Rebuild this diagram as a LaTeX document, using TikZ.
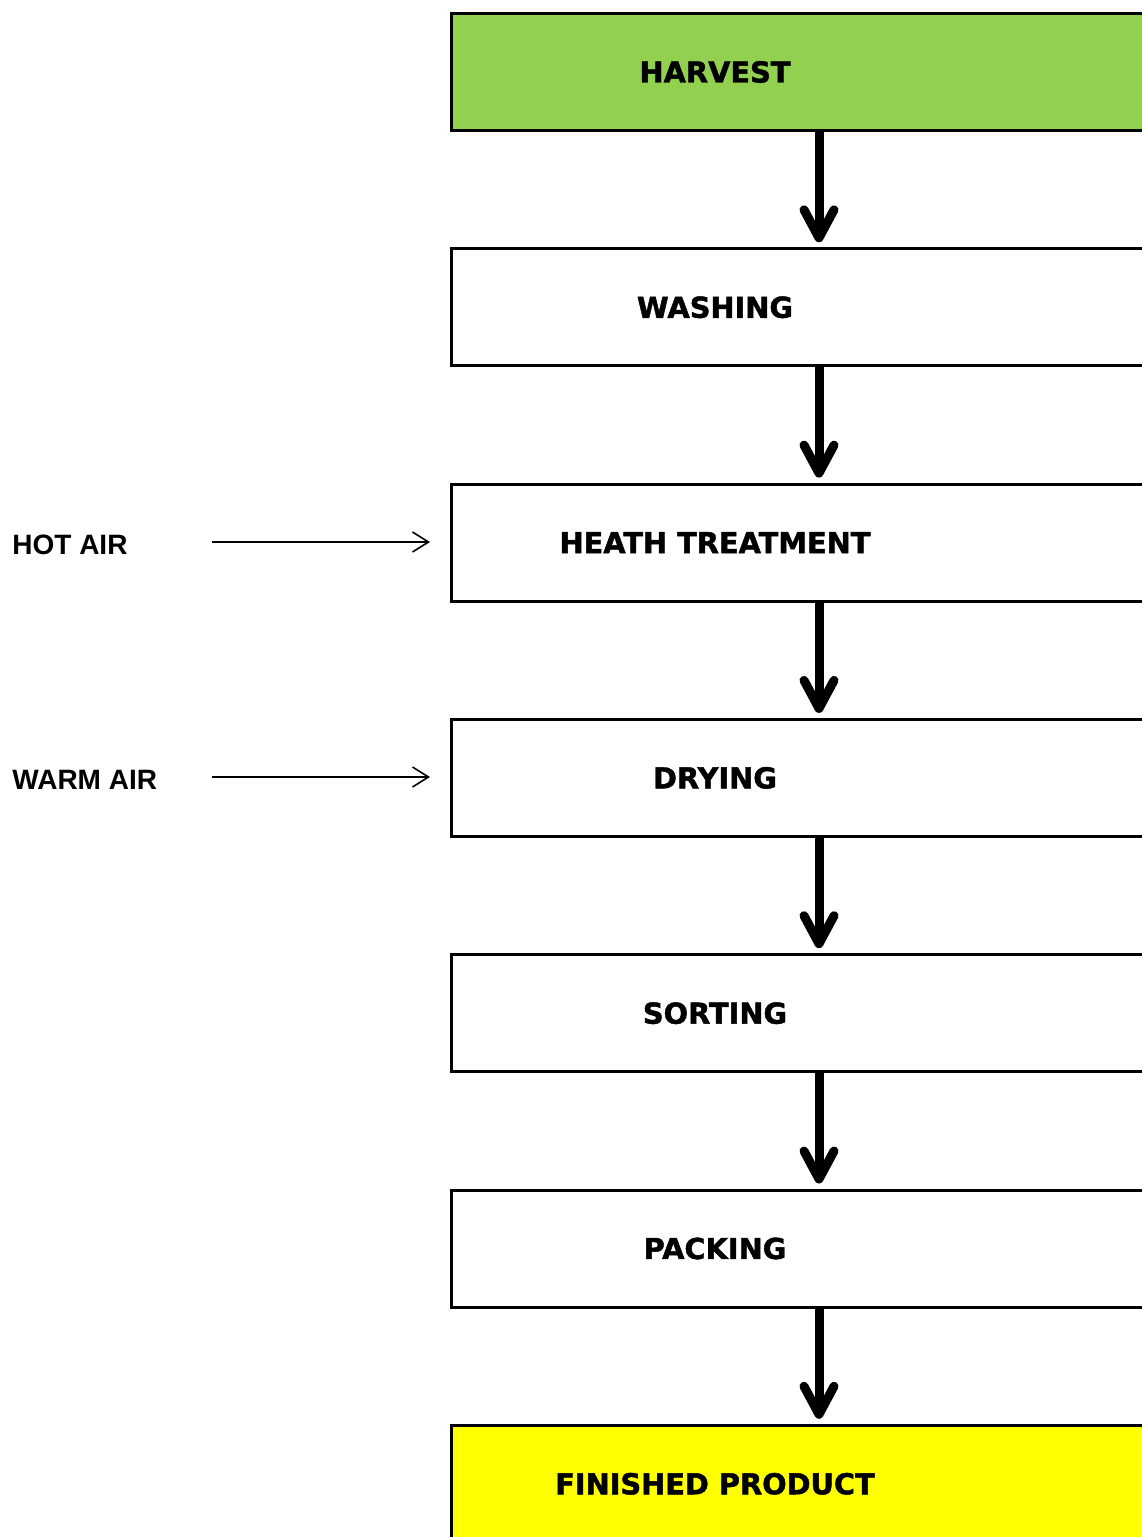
\documentclass[tikz,border=0pt]{standalone}
\usepackage{fontspec}
\newfontfamily\stepfont{DejaVu Sans}[BoldFeatures={FakeBold=1.6}]
\newfontfamily\airfont{Liberation Sans}
\usetikzlibrary{positioning,arrows.meta}
\definecolor{harvestgreen}{RGB}{146,208,80}
\definecolor{productyellow}{RGB}{255,255,0}

\begin{document}
\begin{tikzpicture}
[x=0.5pt, y=-0.5pt,
stepnode/.style={rectangle, draw=black, line width=1.5pt, fill=white, minimum width=367.5pt, minimum height=58.5pt, inner sep=0pt},
steptext/.style={font=\stepfont\bfseries\fontsize{14.4}{17}\selectfont, xshift=-52pt},
airnode/.style={font=\airfont\bfseries\fontsize{14}{17}\selectfont, anchor=west, inner sep=0pt},
flow/.style={line width=4.5pt, -{Straight Barb[length=14pt, width=15pt, round]}, shorten >=2.5pt},
feed/.style={line width=0.8pt, -{Straight Barb[length=8pt, width=10pt]}, shorten >=10pt},
node distance=57.65pt
]
\useasboundingbox (0,0) rectangle (1141,1537);

\node[stepnode, fill=harvestgreen, label={[steptext]center:HARVEST}] (harvest) at (819,72) {};
\node[stepnode, label={[steptext]center:WASHING}] (washing) [below=of harvest] {};
\node[stepnode, label={[steptext]center:HEATH TREATMENT}] (heat) [below=of washing] {};
\node[stepnode, label={[steptext]center:DRYING}] (drying) [below=of heat] {};
\node[stepnode, label={[steptext]center:SORTING}] (sorting) [below=of drying] {};
\node[stepnode, label={[steptext]center:PACKING}] (packing) [below=of sorting] {};
\node[stepnode, fill=productyellow, label={[steptext]center:FINISHED PRODUCT}] (product) [below=of packing] {};

\node[airnode] (hotair) at (12,545) {HOT AIR};
\node[airnode] (warmair) at (12,780) {WARM AIR};
\coordinate (hotstart) at (212,542);
\coordinate (warmstart) at (212,777);

\draw[flow] (harvest) -- (washing);
\draw[flow] (washing) -- (heat);
\draw[flow] (heat) -- (drying);
\draw[flow] (drying) -- (sorting);
\draw[flow] (sorting) -- (packing);
\draw[flow] (packing) -- (product);

\draw[feed] (hotstart) -- (hotstart -| heat.west);
\draw[feed] (warmstart) -- (warmstart -| drying.west);
\end{tikzpicture}
\end{document}
